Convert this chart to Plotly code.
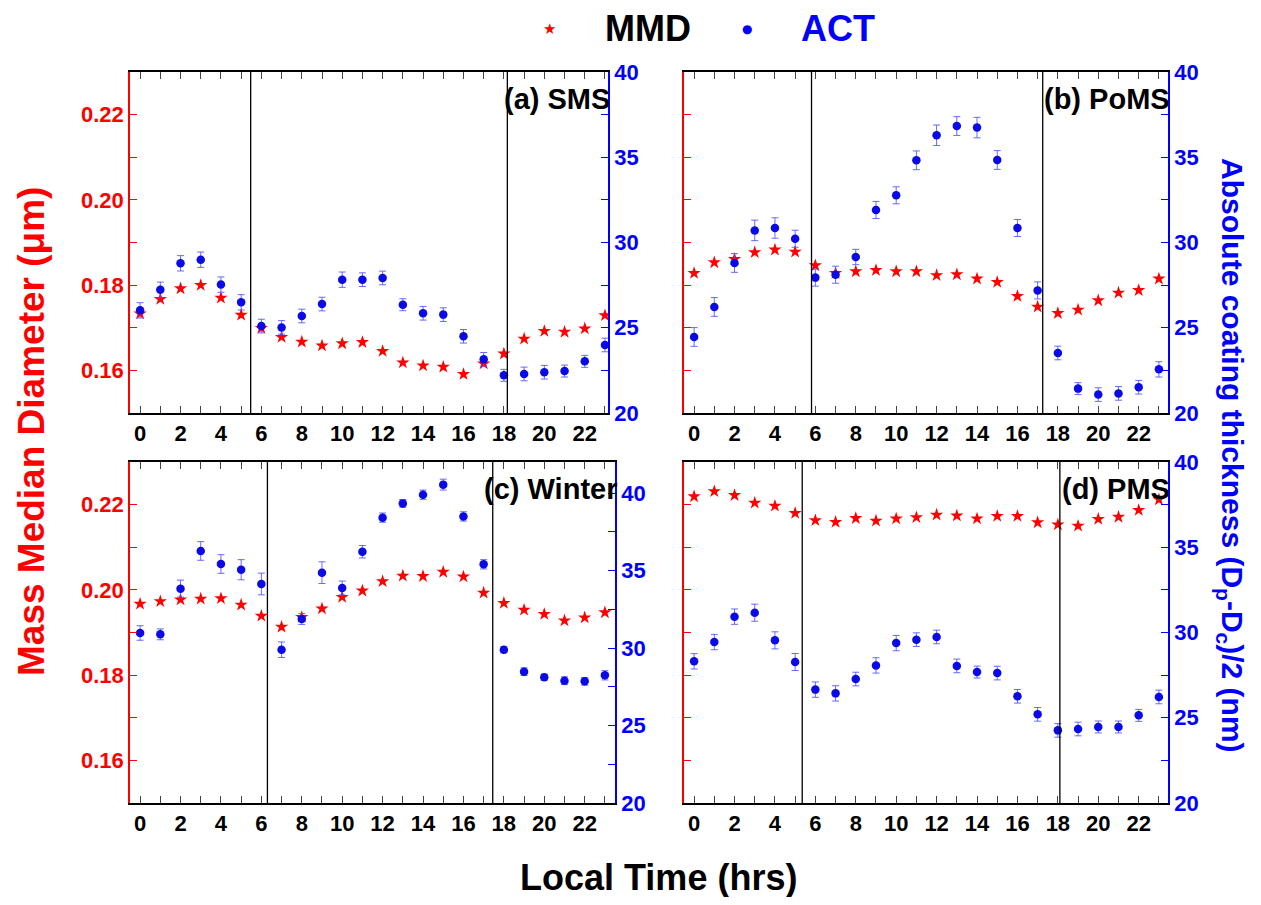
import plotly.graph_objects as go

# the page body keeps its default 8px margin; size the figure so the page
# fits the 1261x905 window exactly (no scrollbars)
PAD = 8
W, H = 1261 - 2 * PAD, 905 - 2 * PAD

hours = list(range(24))
x_tick_text = [str(h) if h % 2 == 0 else "" for h in hours]

# Mass median diameter (um), red stars, left axis
mmd_sms = [0.1733, 0.1767, 0.1792, 0.1800, 0.1770, 0.1730, 0.1699, 0.1678, 0.1667, 0.1658, 0.1663, 0.1666,
           0.1645, 0.1618, 0.1611, 0.1608, 0.1591, 0.1616, 0.1639, 0.1674, 0.1692, 0.1690, 0.1698, 0.1729]
mmd_poms = [0.1828, 0.1853, 0.1861, 0.1877, 0.1883, 0.1878, 0.1846, 0.1828, 0.1832, 0.1835, 0.1832, 0.1832,
            0.1823, 0.1825, 0.1815, 0.1807, 0.1774, 0.1749, 0.1734, 0.1742, 0.1764, 0.1782, 0.1788, 0.1815]
mmd_winter = [0.1967, 0.1973, 0.1977, 0.1979, 0.1980, 0.1965, 0.1939, 0.1913, 0.1936, 0.1956, 0.1983, 0.1998,
              0.2020, 0.2033, 0.2032, 0.2042, 0.2031, 0.1993, 0.1969, 0.1953, 0.1943, 0.1928, 0.1935, 0.1947]
mmd_pms = [0.2219, 0.2231, 0.2222, 0.2204, 0.2197, 0.2180, 0.2163, 0.2159, 0.2168, 0.2162, 0.2167, 0.2170,
           0.2176, 0.2174, 0.2167, 0.2173, 0.2173, 0.2158, 0.2153, 0.2150, 0.2166, 0.2171, 0.2187, 0.2212]

# Absolute coating thickness (nm), blue dots, right axis
act_sms = [26.02, 27.23, 28.78, 28.99, 27.53, 26.49, 25.10, 25.02, 25.69, 26.39, 27.82, 27.82,
           27.92, 26.35, 25.85, 25.77, 24.50, 23.15, 22.21, 22.29, 22.39, 22.46, 23.03, 23.99]
act_poms = [24.46, 26.22, 28.80, 30.71, 30.85, 30.22, 27.94, 28.11, 29.15, 31.91, 32.77, 34.82,
            36.29, 36.83, 36.74, 34.84, 30.85, 27.19, 23.52, 21.43, 21.08, 21.15, 21.51, 22.56]
act_winter = [30.97, 30.88, 33.83, 36.26, 35.42, 35.05, 34.13, 29.89, 31.87, 34.86, 33.87, 36.21,
              38.41, 39.33, 39.89, 40.54, 38.49, 35.40, 29.89, 28.47, 28.11, 27.89, 27.85, 28.24]
act_pms = [28.31, 29.44, 30.93, 31.16, 29.54, 28.27, 26.65, 26.43, 27.27, 28.07, 29.38, 29.58,
           29.74, 28.04, 27.68, 27.62, 26.26, 25.20, 24.26, 24.34, 24.46, 24.46, 25.14, 26.22]

act_sms_err = [0.45, 0.45, 0.45, 0.45, 0.45, 0.45, 0.40, 0.40, 0.40, 0.40, 0.45, 0.40,
               0.40, 0.35, 0.40, 0.40, 0.40, 0.40, 0.35, 0.40, 0.40, 0.35, 0.35, 0.40]
act_poms_err = [0.55, 0.55, 0.55, 0.60, 0.60, 0.50, 0.50, 0.50, 0.45, 0.50, 0.50, 0.55,
                0.60, 0.55, 0.60, 0.55, 0.50, 0.50, 0.40, 0.35, 0.40, 0.40, 0.40, 0.45]
act_winter_err = [0.47, 0.35, 0.55, 0.60, 0.60, 0.65, 0.70, 0.50, 0.35, 0.70, 0.45, 0.40,
                  0.30, 0.25, 0.30, 0.35, 0.30, 0.30, 0.20, 0.25, 0.20, 0.25, 0.25, 0.30]
act_pms_err = [0.45, 0.45, 0.45, 0.50, 0.50, 0.50, 0.45, 0.45, 0.40, 0.45, 0.45, 0.40,
               0.40, 0.40, 0.35, 0.40, 0.40, 0.40, 0.40, 0.40, 0.35, 0.35, 0.35, 0.40]

panel_names = ["(a) SMS", "(b) PoMS", "(c) Winter", "(d) PMS"]
# sunrise / sunset (local time, hrs)
sunrise = [5.47, 5.81, 6.30, 5.35]
sunset = [18.17, 17.25, 17.45, 18.10]

mmd_ticks = [0.16, 0.17, 0.18, 0.19, 0.20, 0.21, 0.22]
mmd_tick_text = ["0.16", "", "0.18", "", "0.20", "", "0.22"]
act_ticks = [20, 22.5, 25, 27.5, 30, 32.5, 35, 37.5, 40]
act_tick_text = ["20", "", "25", "", "30", "", "35", "", "40"]

mmd_all = [mmd_sms, mmd_poms, mmd_winter, mmd_pms]
act_all = [act_sms, act_poms, act_winter, act_pms]
err_all = [act_sms_err, act_poms_err, act_winter_err, act_pms_err]

# panel boxes in window pixels: left, right, top, bottom
boxes = [(130, 608, 72, 413), (684, 1168, 72, 413), (130, 615, 462, 803), (684, 1168, 462, 803)]
x_ranges = [[-0.5, 23.15], [-0.5, 23.45], [-0.5, 23.5], [-0.5, 23.45]]
act_ranges = [[20, 40], [20, 40], [20, 42], [20, 40]]


def px(x):
    return (x - PAD) / W


def py(y):
    return 1 - (y - PAD) / H


FONT = "Liberation Sans, Arial, sans-serif"
RED = "#ff0000"
BLUE = "#0000ff"

fig = go.Figure()
layout = {}
shapes = []
annotations = []

for i in range(4):
    xn = "" if i == 0 else str(i + 1)
    yl = "" if i == 0 else str(2 * i + 1)
    yr = str(2 * i + 2)
    l, r, t, b = boxes[i]

    fig.add_trace(go.Scatter(
        x=hours, y=mmd_all[i], mode="markers", name="MMD",
        marker=dict(symbol="star", size=10, color=RED, line=dict(width=0)),
        xaxis="x" + xn, yaxis="y" + yl, showlegend=False,
    ))
    fig.add_trace(go.Scatter(
        x=hours, y=act_all[i], mode="markers", name="ACT",
        marker=dict(symbol="circle", size=8.5, color="#0a0ae6", line=dict(width=0)),
        error_y=dict(type="data", array=err_all[i], color="rgba(80,80,255,0.85)", thickness=1, width=3.5),
        xaxis="x" + xn, yaxis="y" + yr, showlegend=False,
    ))

    layout["xaxis" + xn] = dict(
        domain=[px(l), px(r)], anchor="y" + yl, range=x_ranges[i], automargin=False,
        tickvals=hours, ticktext=x_tick_text, ticks="inside", ticklen=7,
        showline=True, linecolor="black", linewidth=1.5, mirror="ticks",
        showgrid=False, zeroline=False,
        tickfont=dict(family=FONT, size=22, color="black", weight="bold"),
    )
    layout["yaxis" + yl] = dict(
        domain=[py(b), py(t)], anchor="x" + xn, range=[0.15, 0.23], automargin=False,
        tickvals=mmd_ticks, ticktext=mmd_tick_text, ticks="inside", ticklen=7,
        tickcolor=RED, showline=True, linecolor=RED, linewidth=1.5,
        showgrid=False, zeroline=False, showticklabels=(i % 2 == 0),
        tickfont=dict(family=FONT, size=22, color=RED, weight="bold"),
    )
    layout["yaxis" + yr] = dict(
        domain=[py(b), py(t)], anchor="x" + xn, overlaying="y" + yl, side="right",
        range=act_ranges[i], automargin=False, tickvals=act_ticks, ticktext=act_tick_text,
        ticks="inside", ticklen=7, tickcolor=BLUE,
        showline=True, linecolor=BLUE, linewidth=1.5,
        showgrid=False, zeroline=False,
        tickfont=dict(family=FONT, size=22, color=BLUE, weight="bold"),
    )

    for xv in (sunrise[i], sunset[i]):
        shapes.append(dict(type="line", xref="x" + xn, yref="y" + yl + " domain",
                           x0=xv, x1=xv, y0=0, y1=1, line=dict(color="black", width=1.3)))

    annotations.append(dict(
        text="<b>" + panel_names[i] + "</b>", xref="paper", yref="paper",
        x=px(r + 4), y=py(t + 27), xanchor="right", yanchor="middle",
        showarrow=False, font=dict(family=FONT, size=29, color="black"),
    ))

# legend drawn by hand: symbol, gap, label
annotations += [
    dict(text="\u2605", xref="paper", yref="paper", x=px(549), y=py(29), showarrow=False,
         xanchor="center", yanchor="middle", font=dict(family="DejaVu Sans", size=15, color=RED)),
    dict(text="<b>MMD</b>", xref="paper", yref="paper", x=px(603), y=py(29), showarrow=False,
         xanchor="left", yanchor="middle", font=dict(family=FONT, size=36, color="black")),
    dict(text="\u25cf", xref="paper", yref="paper", x=px(747), y=py(29), showarrow=False,
         xanchor="center", yanchor="middle", font=dict(family="DejaVu Sans", size=12, color=BLUE)),
    dict(text="<b>ACT</b>", xref="paper", yref="paper", x=px(799), y=py(29), showarrow=False,
         xanchor="left", yanchor="middle", font=dict(family=FONT, size=36, color=BLUE)),
]

annotations += [
    dict(text="<b>Mass Median Diameter (\u03bcm)</b>", xref="paper", yref="paper",
         x=px(31), y=py(432), textangle=-90, showarrow=False,
         xanchor="center", yanchor="middle", font=dict(family=FONT, size=37, color=RED)),
    dict(text="<b>Absolute coating thickness (D<sub>p</sub>-D<sub>c</sub>)/2 (nm)</b>",
         xref="paper", yref="paper", x=px(1231), y=py(455), textangle=90, showarrow=False,
         xanchor="center", yanchor="middle", font=dict(family=FONT, size=30, color=BLUE)),
    dict(text="<b>Local Time (hrs)</b>", xref="paper", yref="paper",
         x=px(658), y=py(877), showarrow=False, xanchor="center", yanchor="middle",
         font=dict(family=FONT, size=36, color="black")),
]

fig.update_layout(
    width=W, height=H,
    margin=dict(l=0, r=0, t=0, b=0, autoexpand=False),
    paper_bgcolor="white", plot_bgcolor="white",
    shapes=shapes, annotations=annotations,
    showlegend=False,
    **layout,
)

fig.write_html("out.html")
